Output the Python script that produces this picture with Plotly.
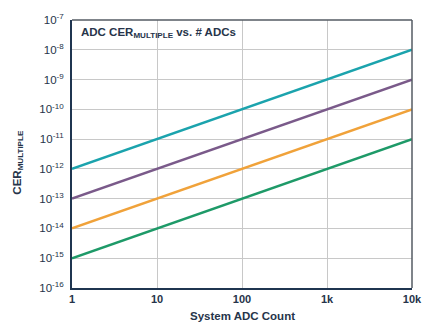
import plotly.graph_objects as go

adc_count = [1, 10, 100, 1000, 10000]
series_teal = [1e-12, 1e-11, 1e-10, 1e-9, 1e-8]
series_purple = [1e-13, 1e-12, 1e-11, 1e-10, 1e-9]
series_orange = [1e-14, 1e-13, 1e-12, 1e-11, 1e-10]
series_green = [1e-15, 1e-14, 1e-13, 1e-12, 1e-11]

x_tickvals = [1, 10, 100, 1000, 10000]
x_ticktext = ["1", "10", "100", "1k", "10k"]
y_exponents = [-7, -8, -9, -10, -11, -12, -13, -14, -15, -16]

series = [
    (series_teal, "#1ba3ad"),
    (series_purple, "#7a5a8a"),
    (series_orange, "#f0a23a"),
    (series_green, "#1e9a68"),
]

text_color = "#26344a"
fig = go.Figure()
for vals, col in series:
    fig.add_trace(go.Scatter(x=adc_count, y=vals, mode="lines",
                             line=dict(color=col, width=2.5), showlegend=False,
                             hoverinfo="skip"))

fig.update_layout(
    width=434, height=329,
    margin=dict(l=72, r=20, t=16, b=41),
    paper_bgcolor="white", plot_bgcolor="white",
    font=dict(family="Liberation Sans, Arial, sans-serif", color=text_color, size=11),
    xaxis=dict(type="log", range=[0, 4], tickvals=x_tickvals,
               ticktext=["<b>%s</b>" % t for t in x_ticktext],
               showgrid=True, gridcolor="#c8c8c8", gridwidth=1,
               showline=True, linecolor="#1f3550", linewidth=2, mirror=False,
               ticks="", tickfont=dict(size=11, color=text_color),
               zeroline=False),
    yaxis=dict(type="log", range=[-16, -7],
               tickvals=[10.0 ** e for e in y_exponents],
               ticktext=["10<sup>%d</sup>" % e for e in y_exponents],
               showgrid=True, gridcolor="#c8c8c8", gridwidth=1,
               showline=True, linecolor="#1f3550", linewidth=2, mirror=False,
               ticks="", ticklabelstandoff=4,
               tickfont=dict(size=11.5, color=text_color),
               zeroline=False),
)

# top and right border
fig.add_shape(type="line", xref="paper", yref="paper", x0=0, x1=1, y0=1, y1=1,
              line=dict(color="#555b63", width=1.5))
fig.add_shape(type="line", xref="paper", yref="paper", x0=1, x1=1, y0=0, y1=1,
              line=dict(color="#555b63", width=1.5))

fig.add_annotation(text="<b>ADC CER<sub>MULTIPLE</sub> vs. # ADCs</b>", xref="paper", yref="paper",
                   x=0.02, y=0.953, xanchor="left", yanchor="middle", showarrow=False,
                   font=dict(size=11.5, color=text_color))
fig.add_annotation(text="<b>CER<sub>MULTIPLE</sub></b>", xref="paper", yref="paper",
                   x=-0.16, y=0.47, xanchor="center", yanchor="middle", showarrow=False,
                   textangle=-90, font=dict(size=11.5, color=text_color))
fig.add_annotation(text="<b>System ADC Count</b>", xref="paper", yref="paper",
                   x=0.5, y=-0.075, xanchor="center", yanchor="top", showarrow=False,
                   font=dict(size=11.5, color=text_color))

fig.write_html("out.html")
